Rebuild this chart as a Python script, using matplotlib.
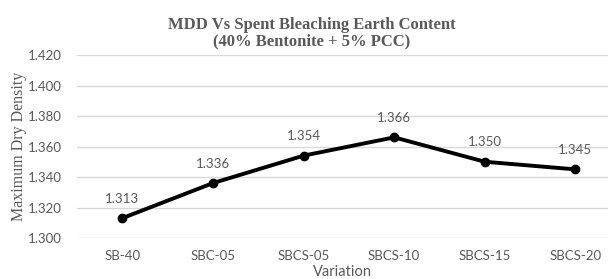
import matplotlib
matplotlib.use("Agg")
from matplotlib import pyplot as plt

variations = ['SB-40', 'SBC-05', 'SBCS-05', 'SBCS-10', 'SBCS-15', 'SBCS-20']
mdd = [1.313, 1.336, 1.354, 1.366, 1.350, 1.345]
yticks = [1.300, 1.320, 1.340, 1.360, 1.380, 1.400, 1.420]

grey = '#595959'
fig = plt.figure(figsize=(6.08, 2.79), dpi=100)
ax = fig.add_axes([77 / 608, 41 / 279, 531 / 608, 183 / 279])

x = list(range(len(variations)))
ax.plot(x, mdd, color='black', linewidth=2.8, marker='o', markersize=6, zorder=3)
for xi, v in zip(x, mdd):
    ax.annotate('%.3f' % v, (xi, v), xytext=(0, 14), textcoords='offset points',
                ha='center', va='center', fontsize=9.5, color=grey, family='Lato')

ax.set_ylim(1.300, 1.420)
ax.set_xlim(-0.5, 5.36)
ax.set_yticks(yticks)
ax.set_yticklabels(['%.3f' % t for t in yticks], fontsize=9.5, color=grey, family='Lato')
ax.set_xticks(x)
ax.set_xticklabels(variations, fontsize=9.5, color=grey, family='Lato')
ax.tick_params(length=0)
ax.tick_params(axis='x', pad=9)
ax.tick_params(axis='y', pad=11)
ax.grid(axis='y', color='#d9d9d9', linewidth=1)
ax.set_axisbelow(True)
for s in ax.spines.values():
    s.set_visible(False)

ax.set_ylabel('Maximum Dry Density', family='Liberation Serif', fontsize=11.5, color=grey, labelpad=0.5)
ax.set_xlabel('Variation', family='Lato', fontsize=10.5, color=grey, labelpad=2)
fig.text(312 / 608, 1 - 33 / 279, 'MDD Vs Spent Bleaching Earth Content\n(40% Bentonite + 5% PCC)',
         ha='center', va='center', family='Liberation Serif', fontweight='bold',
         fontsize=12, color=grey, linespacing=1.0)

fig.savefig('out.png', dpi=100)
